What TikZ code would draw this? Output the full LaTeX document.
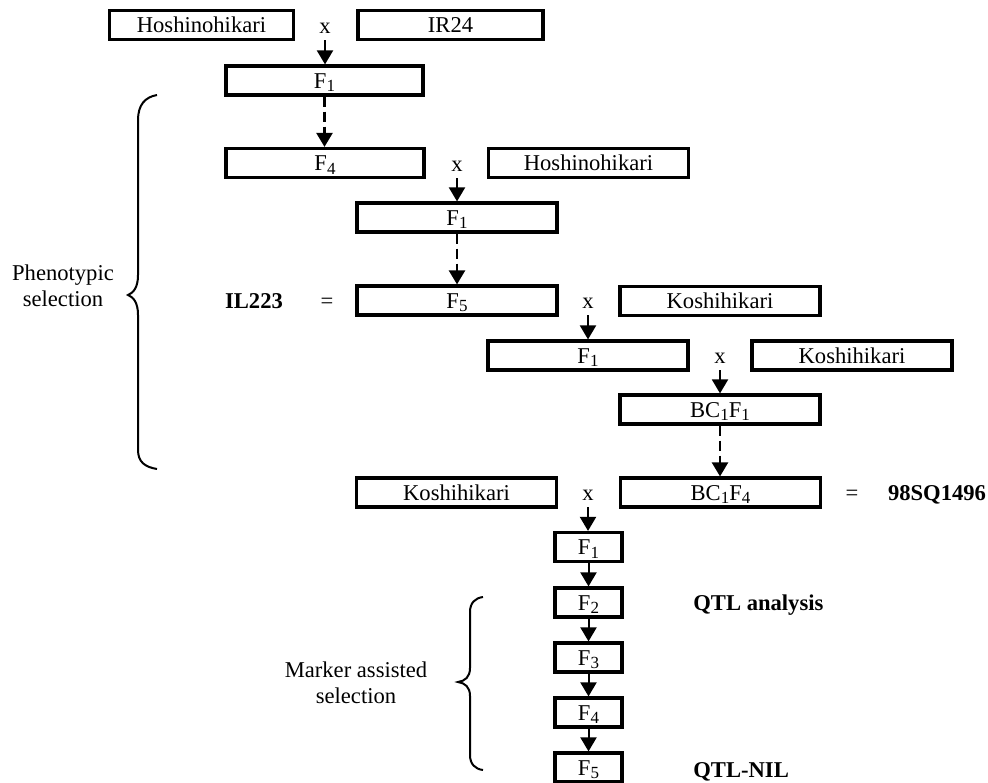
\documentclass[tikz,border=0pt]{standalone}
\usepackage{fontspec}
\setmainfont{Liberation Serif}
\usetikzlibrary{arrows.meta}
\newcommand{\gsub}[1]{\raisebox{-1.8pt}{\fontsize{8.5}{9}\selectfont #1}}
\tikzset{
  plant/.style={draw, line width=1.6pt, minimum width=100pt, minimum height=14.5pt,
    inner sep=0pt, text height=9.5pt, text depth=2pt},
  gen/.style={plant, minimum width=33.5pt},
  cross/.style={anchor=base},
  bold/.style={anchor=base, font=\fontsize{11.3}{13}\selectfont\bfseries},
  arr/.style={line width=1pt, -{Triangle[width=8pt,length=7pt]}},
  darr/.style={arr, line width=1.2pt, dash pattern=on 5pt off 2.5pt},
  brace/.style={line width=1pt}
}
\begin{document}
\begin{tikzpicture}[x=0.5pt, y=-0.5pt, font=\fontsize{11.3}{13}\selectfont]
\useasboundingbox (0,0) rectangle (988,782);
% first cross
\node[plant, minimum width=92pt] (hoshi) at (201.5,25) {Hoshinohikari};
\node[plant, minimum width=92.5pt] (ir) at (450.5,25) {IR24};
\node[cross] (xa) at (325,33) {x};
\node[plant, minimum width=98.5pt] (fone) at (324.5,80.5) {F\gsub{1}};
\node[plant, minimum width=99pt] (ffour) at (325,163) {F\gsub{4}};
% second cross
\node[cross] (xb) at (457,171) {x};
\node[plant] (hoshib) at (588.5,163) {Hoshinohikari};
\node[plant] (foneb) at (457,217.5) {F\gsub{1}};
\node[plant] (ffive) at (457,300.5) {F\gsub{5}};
\node[bold] (il) at (254,308) {IL223};
\node[cross] (eqa) at (327,308) {=};
% backcross to Koshihikari
\node[cross] (xc) at (588,308) {x};
\node[plant] (kosh) at (720,301) {Koshihikari};
\node[plant] (fonec) at (588,355.5) {F\gsub{1}};
\node[cross] (xd) at (720,363) {x};
\node[plant] (koshb) at (852,355.5) {Koshihikari};
\node[plant] (bcone) at (720,409.5) {BC\gsub{1}F\gsub{1}};
\node[plant] (koshc) at (456.5,492.5) {Koshihikari};
\node[cross] (xe) at (588,500) {x};
\node[plant] (bcfour) at (720.5,492.5) {BC\gsub{1}F\gsub{4}};
\node[cross] (eqb) at (852,500) {=};
\node[bold] (sq) at (937,500) {98SQ1496};
% selfing
\foreach \i/\y in {1/547,2/602.5,3/657.5,4/712.5,5/767.5}
  \node[gen] (g\i) at (588.5,\y) {F\gsub{\i}};
\node[bold, anchor=base west, inner sep=0pt] (qtl) at (693,610) {QTL analysis};
\node[bold, anchor=base west, inner sep=0pt] (nil) at (693,777) {QTL-NIL};
\node[align=center] (pheno) at (63,286) {Phenotypic\\selection};
\node[align=center] (mas) at (356,683) {Marker assisted\\selection};
% arrows
\draw[arr] (xa.south) -- (xa.south |- fone.north);
\draw[darr] (fone.south) -- (fone.south |- ffour.north);
\draw[arr] (xb.south) -- (xb.south |- foneb.north);
\draw[darr] (foneb.south) -- (foneb.south |- ffive.north);
\draw[arr] (xc.south) -- (xc.south |- fonec.north);
\draw[arr] (xd.south) -- (xd.south |- bcone.north);
\draw[darr] (bcone.south) -- (bcone.south |- bcfour.north);
\draw[arr] (xe.south) -- (xe.south |- g1.north);
\foreach \a/\b in {1/2,2/3,3/4,4/5}
  \draw[arr] (g\a) -- (g\b);
% braces
\draw[brace] (157,95) .. controls (145,97) and (138,105) .. (138,120) -- (138,275)
  .. controls (138,288) and (133,293) .. (128,295) .. controls (133,297) and (138,302) .. (138,315)
  -- (138,450) .. controls (138,462) and (145,467) .. (157,469);
\draw[brace] (483,597) .. controls (475,598) and (470,603) .. (470,612) -- (470,668)
  .. controls (470,677) and (465,681) .. (458,682) .. controls (465,683) and (470,687) .. (470,696)
  -- (470,755) .. controls (470,764) and (475,769) .. (483,770);
\end{tikzpicture}
\end{document}
